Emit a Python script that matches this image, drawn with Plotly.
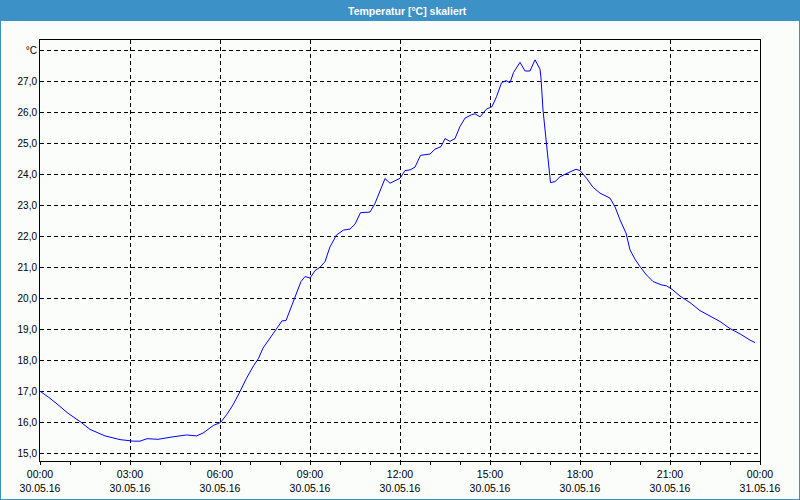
import plotly.graph_objects as go

# measurement times (30.05.16) and temperatures in °C
times = ["00:00","00:17","00:34","00:56","01:22","01:40","02:10","02:40","03:07","03:20",
         "03:34","03:56","04:26","04:53","05:13","05:26","05:47","06:01","06:13","06:26",
         "06:40","06:53","07:07","07:17","07:26","07:40","07:53","08:04","08:12","08:20",
         "08:30","08:42","08:50","09:00","09:10","09:20","09:30","09:40","09:53","10:07",
         "10:20","10:30","10:41","10:50","11:00","11:10","11:20","11:30","11:40","12:00",
         "12:10","12:20","12:30","12:41","13:00","13:10","13:22","13:30","13:40","13:50",
         "14:00","14:10","14:23","14:30","14:40","14:53","15:04","15:13","15:23","15:32",
         "15:40","15:47","16:00","16:10","16:20","16:30","16:40","16:42","16:46","16:50",
         "16:52","16:56","17:01","17:10","17:20","17:34","17:52","18:00","18:13","18:26",
         "18:40","19:00","19:10","19:20","19:32","19:40","19:50","20:00","20:13","20:26",
         "20:43","20:53","21:04","21:20","21:40","22:00","22:20","22:40","23:00","23:20",
         "23:40","23:50"]
temps = [17.00,16.81,16.59,16.29,16.00,15.77,15.56,15.44,15.39,15.39,
         15.47,15.45,15.53,15.59,15.56,15.65,15.90,15.99,16.24,16.56,
         16.99,17.42,17.82,18.06,18.39,18.71,18.98,19.27,19.28,19.62,
         20.03,20.54,20.70,20.65,20.89,21.00,21.18,21.66,22.04,22.20,
         22.23,22.39,22.76,22.76,22.78,23.06,23.49,23.86,23.71,23.87,
         24.12,24.14,24.23,24.61,24.65,24.81,24.89,25.15,25.06,25.15,
         25.54,25.81,25.92,25.95,25.85,26.10,26.18,26.50,26.95,27.02,
         26.95,27.28,27.61,27.33,27.33,27.69,27.39,27.10,26.07,25.40,
         25.00,24.35,23.73,23.76,23.92,24.03,24.16,24.12,23.87,23.58,
         23.39,23.23,22.95,22.53,22.10,21.56,21.26,21.02,20.75,20.54,
         20.43,20.40,20.29,20.07,19.86,19.60,19.43,19.25,19.02,18.85,
         18.65,18.57]

x_tickvals = ["2016-05-30 00:00","2016-05-30 03:00","2016-05-30 06:00","2016-05-30 09:00",
              "2016-05-30 12:00","2016-05-30 15:00","2016-05-30 18:00","2016-05-30 21:00",
              "2016-05-31 00:00"]
x_time_labels = ["00:00","03:00","06:00","09:00","12:00","15:00","18:00","21:00","00:00"]
x_date_labels = ["30.05.16","30.05.16","30.05.16","30.05.16","30.05.16","30.05.16",
                 "30.05.16","30.05.16","31.05.16"]
y_tickvals = [15,16,17,18,19,20,21,22,23,24,25,26,27,28]
y_ticktext = ["15,0","16,0","17,0","18,0","19,0","20,0","21,0","22,0","23,0","24,0",
              "25,0","26,0","27,0","°C"]

title_text = "Temperatur [°C] skaliert"

xs = ["2016-05-30 " + t for t in times]

BLUE = "#3c91c7"
FONT = "Liberation Sans"
XRANGE = ["2016-05-30 00:00", "2016-05-31 00:00"]

fig = go.Figure()
fig.add_trace(go.Scatter(x=xs, y=temps, mode="lines",
                         line=dict(color="#0000ff", width=1), hoverinfo="skip"))
# invisible trace to carry the date axis
fig.add_trace(go.Scatter(x=[XRANGE[0]], y=[None], xaxis="x2", yaxis="y",
                         mode="lines", hoverinfo="skip", showlegend=False))

fig.update_layout(
    width=800, height=500,
    margin=dict(l=40, r=40, t=40, b=39, pad=0, autoexpand=False),
    paper_bgcolor="#fbfdfb", plot_bgcolor="#fbfdfb",
    showlegend=False,
    font=dict(family=FONT, size=10, color="black"),
    xaxis=dict(type="date", range=XRANGE,
               automargin=False,
               tickmode="array", tickvals=x_tickvals, ticktext=x_time_labels,
               ticks="outside", ticklen=3, tickcolor="black", tickwidth=1,
               ticklabelstandoff=0,
               minor=dict(dtick=3600000, ticks="outside", ticklen=3, tickcolor="black",
                          showgrid=False),
               showgrid=True, gridcolor="black", griddash="4px,3px", gridwidth=1,
               showline=True, linecolor="black", linewidth=1, mirror=True,
               zeroline=False, tickfont=dict(family=FONT, size=10.5)),
    xaxis2=dict(type="date", range=XRANGE, overlaying="x", anchor="y", side="bottom",
                automargin=False,
                tickmode="array", tickvals=x_tickvals, ticktext=x_date_labels,
                ticks="", ticklabelstandoff=19, showgrid=False, showline=False,
                zeroline=False, tickfont=dict(family=FONT, size=10.5)),
    yaxis=dict(range=[14.75, 28.33], tickmode="array", tickvals=y_tickvals,
               automargin=False,
               ticktext=y_ticktext, ticks="",
               showgrid=True, gridcolor="black", griddash="4px,3px", gridwidth=1,
               showline=True, linecolor="black", linewidth=1, mirror=True,
               zeroline=False, tickfont=dict(family=FONT, size=10)),
)

# window frame and title bar
fig.add_shape(type="rect", xref="paper", yref="paper",
              x0=-40/720, x1=760/720, y0=-39/421, y1=(461-20)/421,
              line=dict(color=BLUE, width=2), fillcolor="rgba(0,0,0,0)", layer="below")
fig.add_shape(type="rect", xref="paper", yref="paper",
              x0=-40/720, x1=760/720, y0=(461-20)/421, y1=461/421,
              line=dict(width=0), fillcolor=BLUE, layer="below")
fig.add_annotation(text="<b>" + title_text + "</b>", xref="paper", yref="paper",
                   x=(407-40)/720, y=(461-10.5)/421, xanchor="center", yanchor="middle",
                   showarrow=False, font=dict(family=FONT, size=10.5, color="white"))

fig.write_html("out.html")
